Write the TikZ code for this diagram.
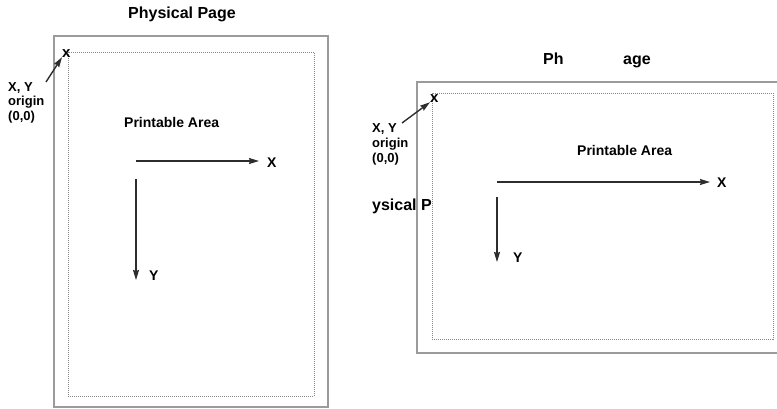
\documentclass[tikz,border=0pt]{standalone}
\usepackage{fontspec}
\setmainfont{Liberation Sans}
\usetikzlibrary{arrows.meta}
\definecolor{PageGrey}{RGB}{155,155,155}
\definecolor{AreaGrey}{RGB}{135,135,135}
\definecolor{AxisDark}{RGB}{45,45,45}
\tikzset{
  pageedge/.style={draw=PageGrey, line width=1.5pt},
  areaedge/.style={draw=AreaGrey, line width=0.9pt, dash pattern=on 1pt off 1pt},
  axisarrow/.style={draw=AxisDark, line width=1.4pt,
    -{Stealth[length=10pt,width=6pt,inset=1pt]}},
  lbl/.style={font=\fontsize{14}{14}\selectfont\bfseries, inner sep=0pt, anchor=base west},
  biglbl/.style={lbl, font=\fontsize{16}{16}\selectfont\bfseries},
  smalllbl/.style={lbl, font=\fontsize{13}{13}\selectfont\bfseries},
  marklbl/.style={lbl, font=\fontsize{15}{15}\selectfont\bfseries},
}

\begin{document}
\begin{tikzpicture}[x=1pt, y=-1pt]
  \useasboundingbox (0,0) rectangle (777,408);
  % Portrait page
  \draw[pageedge] (54,36) rectangle (328,407);
  \draw[areaedge] (68,52) rectangle (314,396);
  \node[biglbl] (ptitle) at (128,18) {Physical Page};
  \node[marklbl] (porigin) at (62,57) {x};
  \node[smalllbl] (pxy) at (8,91) {X, Y};
  \node[smalllbl] (pword) at (8,105.5) {origin};
  \node[smalllbl] (pzero) at (8,120) {(0,0)};
  \coordinate (ptail) at (46,82);
  \draw[axisarrow] (ptail) -- (porigin.south west);
  \node[lbl] (parea) at (124,127) {Printable Area};
  \coordinate (paxis) at (136,161);
  \coordinate (pdown) at (136,179);
  \node[lbl] (pxlab) at (267,167) {X};
  \node[lbl] (pylab) at (149,280) {Y};
  \draw[axisarrow, shorten >=8pt] (paxis) -- (paxis -| pxlab.west);
  \draw[axisarrow] (pdown) -- (pdown |- pylab.base);
  % Landscape page
  \draw[pageedge] (417,82) rectangle (790,353);
  \draw[areaedge] (432,93) rectangle (773,339);
  \node[biglbl] (ltitlea) at (543,64) {Ph};
  \node[biglbl] (ltitleb) at (623,64) {age};
  \node[biglbl] (ltitlec) at (372,210) {ysical P};
  \node[marklbl] (lorigin) at (430,102) {x};
  \node[smalllbl] (lxy) at (372,132) {X, Y};
  \node[smalllbl] (lword) at (372,147) {origin};
  \node[smalllbl] (lzero) at (372,162) {(0,0)};
  \coordinate (ltail) at (402,123);
  \draw[axisarrow] (ltail) -- (lorigin.south west);
  \node[lbl] (larea) at (577,155) {Printable Area};
  \coordinate (laxis) at (497,182);
  \coordinate (ldown) at (497,197);
  \node[lbl] (lxlab) at (717,187) {X};
  \node[lbl] (lylab) at (513,262) {Y};
  \draw[axisarrow, shorten >=7pt] (laxis) -- (laxis -| lxlab.west);
  \draw[axisarrow] (ldown) -- (ldown |- lylab.base);
\end{tikzpicture}
\end{document}
